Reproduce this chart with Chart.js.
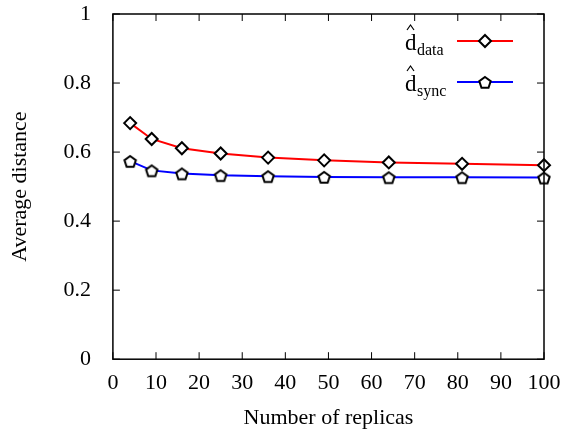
<!DOCTYPE html>
<html>
<head>
<meta charset="utf-8">
<script src="https://cdn.jsdelivr.net/npm/chart.js@4/dist/chart.umd.min.js"></script>
<style>
  html, body { margin: 0; padding: 0; background: #fff; }
  #wrap { width: 566px; height: 435px; }
</style>
</head>
<body>
<div id="wrap"><canvas id="chart"></canvas></div>
<script>
// replicas on x, average distance on y
const replicas = [4, 9, 16, 25, 36, 49, 64, 81, 100];
const dData = [0.684, 0.638, 0.611, 0.596, 0.584, 0.576, 0.570, 0.566, 0.562];
const dSync = [0.574, 0.547, 0.538, 0.533, 0.530, 0.528, 0.527, 0.527, 0.526];
const seriesNames = ["data", "sync"];

const FONT = "'Liberation Serif', 'DejaVu Serif', serif";

// pentagon marker, chart.js has none built in
function pentagon(r) {
  const c = document.createElement("canvas");
  const s = r * 2 + 6;
  c.width = s; c.height = s;
  const g = c.getContext("2d");
  g.beginPath();
  for (let i = 0; i < 5; i++) {
    const a = -Math.PI / 2 + i * 2 * Math.PI / 5;
    const px = s / 2 + r * Math.cos(a), py = s / 2 + 1 + r * Math.sin(a);
    i ? g.lineTo(px, py) : g.moveTo(px, py);
  }
  g.closePath();
  g.fillStyle = "#fff"; g.fill();
  g.lineWidth = 2; g.strokeStyle = "#000"; g.stroke();
  return c;
}
const penta = pentagon(6);

// gnuplot look: frame, inward ticks on all sides, custom legend
const frame = {
  id: "frame",
  afterDraw(chart) {
    const { ctx, chartArea: a, scales } = chart;
    ctx.save();
    ctx.strokeStyle = "#000";
    ctx.lineWidth = 1.5;
    ctx.strokeRect(a.left, a.top, a.right - a.left, a.bottom - a.top);
    ctx.lineWidth = 1;
    ctx.beginPath();
    scales.x.ticks.forEach(t => {
      const px = scales.x.getPixelForValue(t.value);
      ctx.moveTo(px, a.bottom); ctx.lineTo(px, a.bottom - 7);
      ctx.moveTo(px, a.top); ctx.lineTo(px, a.top + 7);
    });
    scales.y.ticks.forEach(t => {
      const py = scales.y.getPixelForValue(t.value);
      ctx.moveTo(a.left, py); ctx.lineTo(a.left + 7, py);
      ctx.moveTo(a.right, py); ctx.lineTo(a.right - 7, py);
    });
    ctx.stroke();

    // legend
    chart.data.datasets.forEach((ds, i) => {
      const y = a.top + 27 + i * 41;
      ctx.fillStyle = "#000";
      ctx.textBaseline = "alphabetic";
      ctx.textAlign = "left";
      ctx.font = "23px " + FONT;
      ctx.fillText("d", 405, y + 9);
      // hat drawn as a small caret above the d
      ctx.strokeStyle = "#000";
      ctx.lineWidth = 1.2;
      ctx.beginPath();
      ctx.moveTo(407, y - 11); ctx.lineTo(410.5, y - 16); ctx.lineTo(414, y - 11);
      ctx.stroke();
      ctx.font = "16px " + FONT;
      ctx.fillText(seriesNames[i], 417, y + 14);
      ctx.strokeStyle = ds.borderColor;
      ctx.lineWidth = 2;
      ctx.beginPath();
      ctx.moveTo(457, y); ctx.lineTo(513, y);
      ctx.stroke();
      if (ds.pointStyle === "rectRot") {
        ctx.beginPath();
        ctx.moveTo(485, y - 6); ctx.lineTo(491, y); ctx.lineTo(485, y + 6); ctx.lineTo(479, y);
        ctx.closePath();
        ctx.fillStyle = "#fff"; ctx.fill();
        ctx.strokeStyle = "#000"; ctx.stroke();
      } else {
        ctx.drawImage(penta, 485 - penta.width / 2, y - penta.height / 2);
      }
    });
    ctx.restore();
  }
};

new Chart(document.getElementById("chart"), {
  type: "line",
  data: {
    datasets: [
      {
        label: "data",
        data: replicas.map((x, i) => ({ x, y: dData[i] })),
        borderColor: "#ff0000",
        borderWidth: 2,
        pointStyle: "rectRot",
        pointRadius: 6,
        pointBackgroundColor: "#fff",
        pointBorderColor: "#000",
        pointBorderWidth: 2,
        tension: 0,
        clip: false
      },
      {
        label: "sync",
        data: replicas.map((x, i) => ({ x, y: dSync[i] })),
        borderColor: "#0000ff",
        borderWidth: 2,
        pointStyle: penta,
        pointRadius: 6,
        tension: 0,
        clip: false
      }
    ]
  },
  options: {
    responsive: true,
    maintainAspectRatio: false,
    animation: false,
    layout: { padding: { top: 14, right: 22, left: 3, bottom: 0 } },
    plugins: { legend: { display: false }, tooltip: { enabled: false } },
    scales: {
      x: {
        type: "linear",
        min: 0, max: 100,
        ticks: { stepSize: 10, color: "#000", font: { family: FONT, size: 22 }, maxRotation: 0, padding: 3 },
        grid: { display: false },
        border: { display: false },
        title: { display: true, text: "Number of replicas", color: "#000", font: { family: FONT, size: 22 }, padding: { top: 5 } }
      },
      y: {
        min: 0, max: 1,
        afterFit(scale) { scale.paddingTop = 0; },
        ticks: { stepSize: 0.2, color: "#000", font: { family: FONT, size: 22 }, padding: 14, callback: v => String(+v.toFixed(1)) },
        grid: { display: false },
        border: { display: false },
        title: { display: true, text: "Average distance", color: "#000", font: { family: FONT, size: 22 }, padding: { bottom: 16 } }
      }
    }
  },
  plugins: [frame]
});
</script>
</body>
</html>
